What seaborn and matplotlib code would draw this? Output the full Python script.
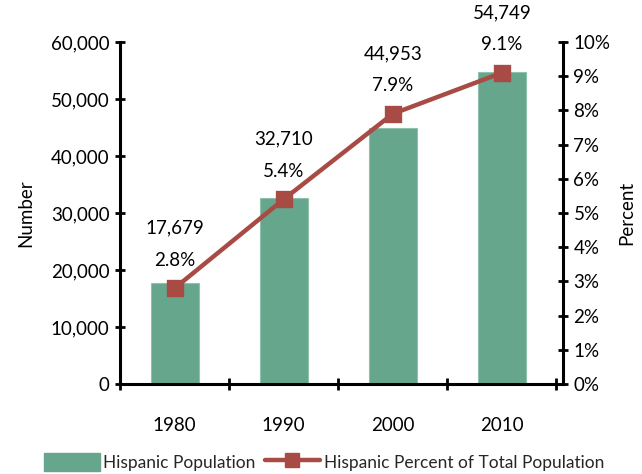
import matplotlib
matplotlib.use("Agg")
import matplotlib.pyplot as plt
import seaborn as sns
import pandas as pd
from matplotlib.patches import Patch
from matplotlib.lines import Line2D
from matplotlib.ticker import FuncFormatter, FixedLocator

years = ["1980", "1990", "2000", "2010"]
population = [17679, 32710, 44953, 54749]
percent = [2.8, 5.4, 7.9, 9.1]
pop_labels = ["17,679", "32,710", "44,953", "54,749"]
pct_labels = ["2.8%", "5.4%", "7.9%", "9.1%"]

GREEN = "#66A68C"
RED = "#A84B45"
FS = 13.5

sns.set_theme(style="white")
plt.rcParams["font.family"] = ["Lato", "DejaVu Sans"]

df = pd.DataFrame({"year": years, "pop": population, "pct": percent})

fig = plt.figure(figsize=(6.42, 4.74), dpi=100)
ax = fig.add_axes([120 / 642, 1 - 384 / 474, (563 - 120) / 642, (384 - 42) / 474])

sns.barplot(data=df, x="year", y="pop", ax=ax, color=GREEN, width=0.44,
            saturation=1, edgecolor="#8fc2ad", linewidth=0.8)
ax.set_ylim(0, 60000)
ax.set_yticks(range(0, 60001, 10000))
ax.yaxis.set_major_formatter(FuncFormatter(lambda v, p: f"{int(v):,}"))
ax.set_xlabel("")
ax.set_ylabel("Number", fontsize=FS, labelpad=12)

ax2 = ax.twinx()
sns.pointplot(data=df, x="year", y="pct", ax=ax2, color=RED, markers="s",
              markersize=10, linewidth=3.2, errorbar=None)
ax2.set_ylim(0, 10)
ax2.set_yticks(range(0, 11))
ax2.yaxis.set_major_formatter(FuncFormatter(lambda v, p: f"{int(v)}%"))
ax2.set_ylabel("Percent", fontsize=FS, labelpad=6)
ax2.set_xlabel("")

for a in (ax, ax2):
    a.set_xlim(-0.5, 3.56)
    for s in a.spines.values():
        s.set_visible(False)

ax.spines["left"].set_visible(True)
ax.spines["bottom"].set_visible(True)
ax2.spines["right"].set_visible(True)
for a, side in ((ax, "left"), (ax, "bottom"), (ax2, "right")):
    a.spines[side].set_color("black")
    a.spines[side].set_linewidth(2.2)

ax.tick_params(axis="y", which="major", direction="inout", length=7, width=2,
               colors="black", labelsize=FS, pad=4, left=True)
ax2.tick_params(axis="y", which="major", direction="inout", length=7, width=2,
                colors="black", labelsize=FS, pad=4, right=True)
ax.tick_params(axis="x", which="major", length=0, labelsize=FS, pad=24, colors="black")
ax.xaxis.set_minor_locator(FixedLocator([-0.5, 0.5, 1.5, 2.5, 3.5]))
ax.tick_params(axis="x", which="minor", direction="inout", length=8, width=2,
               bottom=True, colors="black")
for lab in ax.get_xticklabels() + ax.get_yticklabels() + ax2.get_yticklabels():
    lab.set_color("black")
ax.yaxis.label.set_color("black")
ax2.yaxis.label.set_color("black")

for i in range(len(years)):
    ax2.annotate(pct_labels[i], (i, percent[i]), xytext=(0, 28),
                 textcoords="offset pixels", ha="center", va="center",
                 fontsize=FS, color="black")
    ax2.annotate(pop_labels[i], (i, percent[i]), xytext=(0, 60),
                 textcoords="offset pixels", ha="center", va="center",
                 fontsize=FS, color="black", annotation_clip=False)

handles = [Patch(facecolor=GREEN, edgecolor=GREEN),
           Line2D([0], [0], color=RED, lw=3.2, marker="s", markersize=10)]
fig.legend(handles, ["Hispanic Population", "Hispanic Percent of Total Population"],
           loc="center", bbox_to_anchor=(0.505, 1 - 462 / 474), ncol=2, frameon=False,
           fontsize=12.5, handlelength=3.2, handleheight=1.2, columnspacing=0.5,
           handletextpad=0.2, borderaxespad=0)

fig.savefig("out.png", dpi=100)
